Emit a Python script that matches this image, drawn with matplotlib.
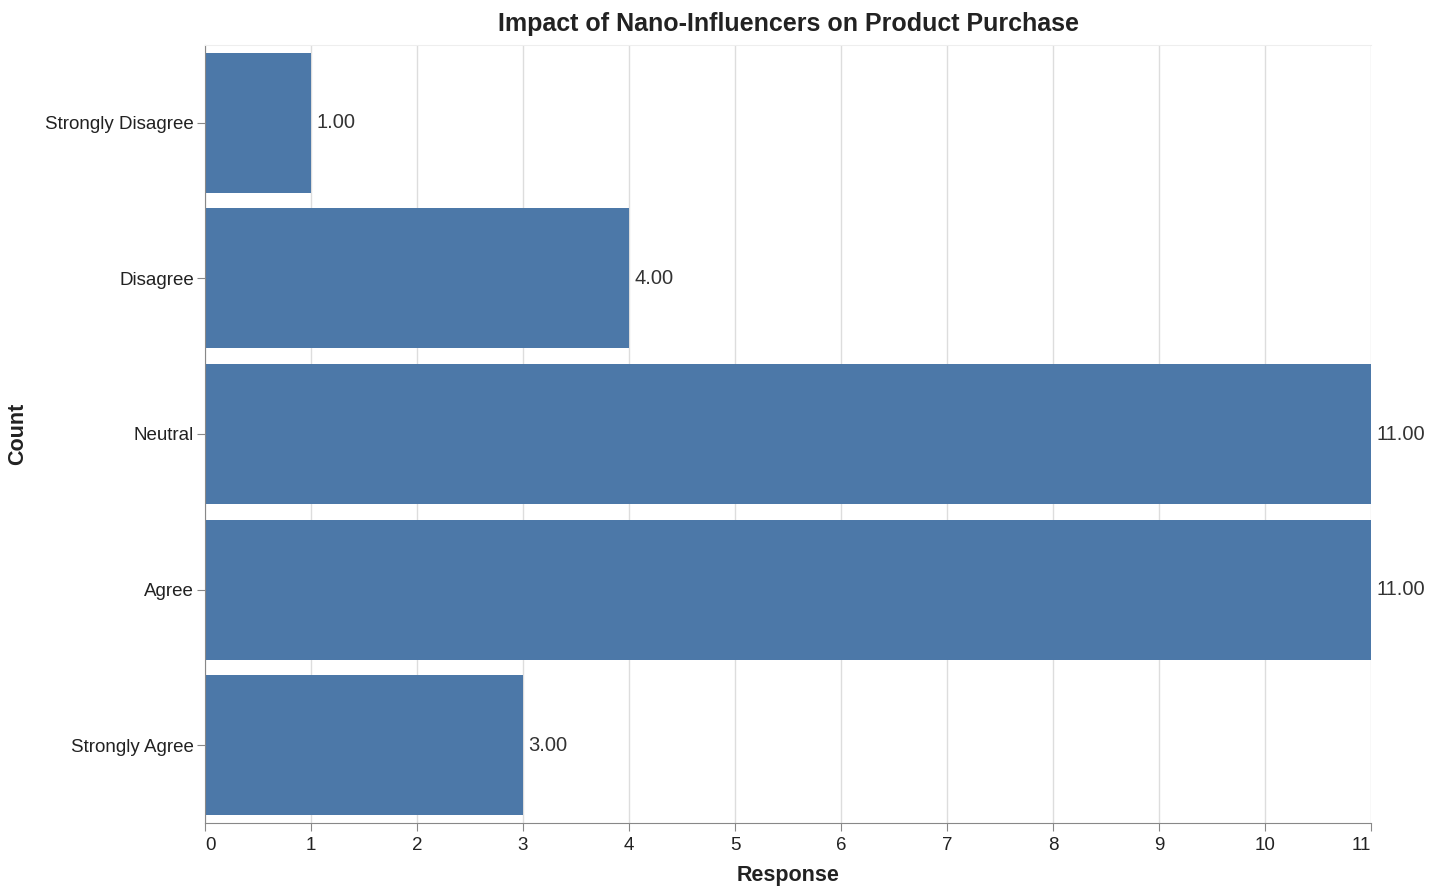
import numpy as np
import matplotlib
matplotlib.use('Agg')
import matplotlib.pyplot as plt

plt.rcParams['font.family'] = ['Liberation Sans', 'DejaVu Sans']

responses = ['Strongly Disagree', 'Disagree', 'Neutral', 'Agree', 'Strongly Agree']
counts = [1, 4, 11, 11, 3]
xticks = list(range(0, 12))

bar_color = '#4c78a8'
grid_color = '#dddddd'
axis_color = '#888888'

fig = plt.figure(figsize=(14.41, 8.88), dpi=100)
ax = fig.add_axes([205 / 1441, 1 - 823 / 888, (1371 - 205) / 1441, (823 - 45) / 888])

y = np.arange(len(responses))
ax.barh(y, counts, height=0.9, color=bar_color, zorder=2)

for yi, c in zip(y, counts):
    ax.annotate(f'{c:.2f}', xy=(c, yi), xytext=(4, 0), textcoords='offset points',
                ha='left', va='center', fontsize=14.5, color='#333333')

ax.set_xlim(0, 11)
ax.set_ylim(len(responses) - 0.5, -0.5)
ax.set_yticks(y)
ax.set_yticklabels(responses)
ax.set_xticks(xticks)
ax.set_xticklabels([str(t) for t in xticks])

# flush first/last x labels like vega
xlabels = ax.get_xticklabels()
xlabels[0].set_horizontalalignment('left')
xlabels[-1].set_horizontalalignment('right')

ax.grid(axis='x', color=grid_color, linewidth=1, zorder=0)
ax.set_axisbelow(True)

ax.spines['right'].set_visible(False)
ax.spines['top'].set_color('#eeeeee')
ax.spines['left'].set_color(axis_color)
ax.spines['bottom'].set_color(axis_color)

ax.tick_params(axis='both', colors=axis_color, labelcolor='#222222', labelsize=13.5, length=6)
ax.tick_params(axis='x', pad=4)
ax.tick_params(axis='y', pad=2)

ax.set_xlabel('Response', fontsize=15.5, fontweight='bold', color='#222222', labelpad=8)
ax.set_ylabel('Count', fontsize=15.5, fontweight='bold', color='#222222', va='center')
ax.yaxis.set_label_coords((18 - 205) / 1166, 0.5)
ax.set_title('Impact of Nano-Influencers on Product Purchase', fontsize=18,
             fontweight='bold', color='#222222', pad=10)

fig.savefig('out.png', dpi=100)
